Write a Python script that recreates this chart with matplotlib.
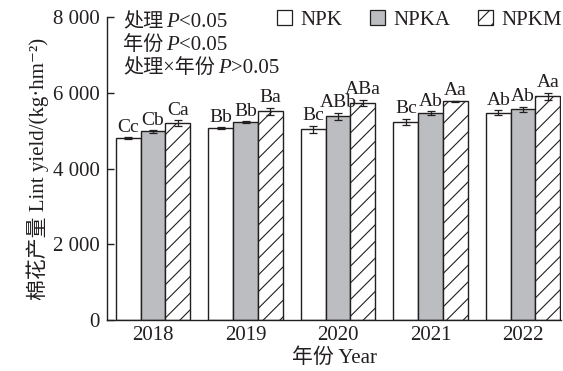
import matplotlib
matplotlib.use("Agg")
import matplotlib.pyplot as plt
from matplotlib.patches import Patch
import numpy as np

plt.rcParams['font.family'] = ['Liberation Serif', 'Noto Sans CJK SC', 'DejaVu Serif']
plt.rcParams['hatch.linewidth'] = 0.8

years = ['2018', '2019', '2020', '2021', '2022']
treatments = ['NPK', 'NPKA', 'NPKM']
npk = [4795, 5075, 5040, 5230, 5470]
npka = [4980, 5225, 5375, 5460, 5565]
npkm = [5200, 5515, 5735, 5775, 5905]
npk_err = [25, 20, 90, 80, 65]
npka_err = [30, 30, 95, 50, 70]
npkm_err = [70, 90, 80, 20, 95]
npk_sig = ['Cc', 'Bb', 'Bc', 'Bc', 'Ab']
npka_sig = ['Cb', 'Bb', 'ABb', 'Ab', 'Ab']
npkm_sig = ['Ca', 'Ba', 'ABa', 'Aa', 'Aa']

ink = '#231f20'
fs = 15
sig_fs = 14
cjk_fs = 14.5

fig = plt.figure(figsize=(5.63, 3.71), dpi=100)
ax = fig.add_axes([107 / 563, 51 / 371, 454 / 563, 303 / 371])

x = np.arange(len(years))
w = 0.267
series = [
    (npk, npk_err, npk_sig, 'white', ''),
    (npka, npka_err, npka_sig, '#bcbdc0', ''),
    (npkm, npkm_err, npkm_sig, 'white', '//'),
]
handles = []
for i, (vals, errs, sigs, color, hatch) in enumerate(series):
    pos = x + (i - 1) * w
    ax.bar(pos, vals, width=w, color=color, edgecolor=ink, linewidth=1.0,
           hatch=hatch, zorder=2)
    ax.errorbar(pos, vals, yerr=errs, fmt='none', ecolor=ink, elinewidth=0.9,
                capsize=3, capthick=0.9, zorder=3)
    for p, v, e, s in zip(pos, vals, errs, sigs):
        ax.annotate(s, (p, v + e), xytext=(0, 1.0), textcoords='offset points',
                    ha='center', va='bottom', fontsize=sig_fs, color=ink)
    handles.append(Patch(facecolor=color, edgecolor=ink, linewidth=0.9,
                         hatch=hatch, label=treatments[i]))

ax.set_xlim(-0.497, 4.41)
ax.set_ylim(0, 8000)
ax.set_yticks([0, 2000, 4000, 6000, 8000])
ax.set_yticklabels(['0', '2 000', '4 000', '6 000', '8 000'])
ax.set_xticks(x)
ax.set_xticklabels(years)
ax.tick_params(axis='y', direction='in', length=5, width=1.0, pad=5,
               labelsize=fs, colors=ink)
ax.tick_params(axis='x', length=0, pad=4, labelsize=fs, colors=ink)
for side in ['top', 'right']:
    ax.spines[side].set_visible(False)
for side in ['left', 'bottom']:
    ax.spines[side].set_linewidth(1.0)
    ax.spines[side].set_color(ink)

ax.set_xlabel('年份 Year', fontsize=fs, color=ink, labelpad=3)
ax.set_ylabel('棉花产量 Lint yield/(kg·hm⁻²)', fontsize=fs, color=ink, labelpad=3)

fig.legend(handles=handles, loc='upper right', ncol=3, frameon=False,
           bbox_to_anchor=(562 / 563, 1 - 10 / 371), borderpad=0, borderaxespad=0,
           handlelength=0.75, handleheight=0.75, handletextpad=0.4,
           columnspacing=1.3, fontsize=fs, labelcolor=ink)

# statistics block: plain text with an italic P, pieced together on one baseline
lines = [('处理', '<0.05'), ('年份', '<0.05'), ('处理×年份', '>0.05')]
ys = [1 - 10 / 303, 1 - 33 / 303, 1 - 56 / 303]
fig.canvas.draw()
renderer = fig.canvas.get_renderer()
for (pre, post), yy in zip(lines, ys):
    t1 = ax.text(16 / 454, yy, pre, transform=ax.transAxes, fontsize=cjk_fs,
                 color=ink, va='baseline', ha='left')
    bb = t1.get_window_extent(renderer)
    x2 = ax.transAxes.inverted().transform((bb.x1 + 3, 0))[0]
    t2 = ax.text(x2, yy, 'P', transform=ax.transAxes, fontsize=fs, color=ink,
                 va='baseline', ha='left', style='italic')
    bb2 = t2.get_window_extent(renderer)
    x3 = ax.transAxes.inverted().transform((bb2.x1, 0))[0]
    ax.text(x3, yy, post, transform=ax.transAxes, fontsize=fs, color=ink,
            va='baseline', ha='left')

fig.savefig('out.png', dpi=100)
